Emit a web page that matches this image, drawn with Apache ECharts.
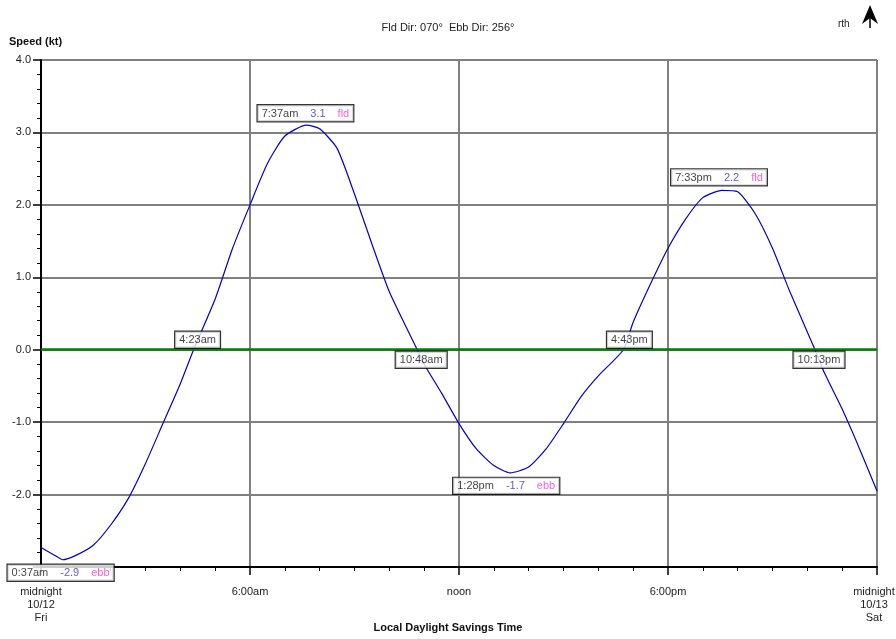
<!DOCTYPE html>
<html>
<head>
<meta charset="utf-8">
<script src="https://cdn.jsdelivr.net/npm/echarts@6/dist/echarts.min.js"></script>
<style>
  html, body { margin: 0; padding: 0; background: #fff; }
  #chart { width: 896px; height: 639px; }
</style>
</head>
<body>
<div id="chart"></div>
<script>
// hours since midnight 10/12, current speed in knots
const hours = [0, 0.5, 0.62, 1, 1.5, 2, 2.5, 3, 3.5, 4, 4.38, 5, 5.5, 6, 6.5, 7, 7.62, 8, 8.5, 9, 9.5, 10,
  10.8, 11, 11.5, 12, 12.5, 13, 13.47, 14, 14.5, 15, 15.5, 16, 16.72, 17, 17.5, 18, 18.5, 19, 19.55,
  20, 20.5, 21, 21.5, 22.22, 22.5, 23, 23.5, 24]
const speeds = [-2.73, -2.87, -2.9, -2.84, -2.7, -2.42, -2.06, -1.57, -1.02, -0.47, 0, 0.7, 1.4, 2.0, 2.57, 2.95, 3.1,
  3.05, 2.78, 2.15, 1.46, 0.8, 0, -0.2, -0.6, -1.02, -1.37, -1.6, -1.7, -1.62, -1.37, -1.02, -0.65, -0.36,
  0, 0.38, 0.91, 1.4, 1.8, 2.1, 2.2, 2.18, 1.88, 1.4, 0.8, 0, -0.33, -0.82, -1.37, -1.95]

// slack / max events
const eventHours = [0.62, 4.38, 7.62, 10.8, 13.47, 16.72, 19.55, 22.22]
const eventSpeeds = [-2.9, 0, 3.1, 0, -1.7, 0, 2.2, 0]
const eventTimes = ['0:37am', '4:23am', '7:37am', '10:48am', '1:28pm', '4:43pm', '7:33pm', '10:13pm']
const eventKinds = ['ebb', '', 'fld', '', 'ebb', '', 'fld', '']
const eventOffsets = [[-2, 13], [4, -10], [-1, -12], [4, 10], [-4, 13], [6, -10], [-3, -13], [4, 10]]

const xTickLabels = { 0: 'midnight\n10/12\nFri', 6: '6:00am', 12: 'noon', 18: '6:00pm', 24: '{r|midnight}\n{r|10/13}\n{r|Sat}' }

const font = 'Liberation Sans, Arial, sans-serif'
const chart = echarts.init(document.getElementById('chart'))

const eventData = eventHours.map((h, i) => {
  const txt = eventKinds[i]
    ? `{t|${eventTimes[i]}}{v|${eventSpeeds[i].toFixed(1)}}{k|${eventKinds[i]}}`
    : `{t|${eventTimes[i]}}`
  return {
    value: [h, eventSpeeds[i]],
    label: { formatter: txt, offset: eventOffsets[i] },
  }
})

chart.setOption({
  animation: false,
  textStyle: { fontFamily: font },
  grid: { left: 41, right: 19, top: 60, bottom: 72, containLabel: false, outerBoundsMode: 'none' },
  graphic: [
    { type: 'text', left: 'center', top: 22, style: { text: 'Fld Dir: 070°  Ebb Dir: 256°', font: `11px ${font}`, fill: '#222' } },
    { type: 'text', left: 9, top: 36, style: { text: 'Speed (kt)', font: `bold 11px ${font}`, fill: '#111' } },
    { type: 'text', left: 'center', top: 622, style: { text: 'Local Daylight Savings Time', font: `bold 11px ${font}`, fill: '#111' } },
    { type: 'text', left: 838, top: 19, style: { text: 'rth', font: `10px ${font}`, fill: '#222' } },
    { type: 'polygon', shape: { points: [[870, 5], [878, 24], [870, 18], [862, 24]] }, style: { fill: '#000' } },
    { type: 'line', shape: { x1: 870, y1: 15, x2: 870, y2: 28 }, style: { stroke: '#000', lineWidth: 1.5 } },
  ],
  xAxis: {
    type: 'value',
    min: 0,
    max: 24,
    interval: 6,
    axisLine: { onZero: false, lineStyle: { color: '#000', width: 2 } },
    axisTick: { length: 8, lineStyle: { color: '#000', width: 1.5 } },
    minorTick: { show: true, splitNumber: 6, length: 4, lineStyle: { color: '#000', width: 1 } },
    splitLine: { show: true, lineStyle: { color: '#808080', width: 2 } },
    axisLabel: {
      margin: 18,
      color: '#222',
      fontSize: 11,
      lineHeight: 13,
      formatter: (v) => xTickLabels[v] || '',
      rich: {
        r: { color: '#222', fontSize: 11, lineHeight: 13, fontFamily: font, padding: [0, 6, 0, 0] },
      },
    },
  },
  yAxis: {
    type: 'value',
    min: -3,
    max: 4,
    interval: 1,
    axisLine: { onZero: false, lineStyle: { color: '#000', width: 2 } },
    axisTick: { length: 8, lineStyle: { color: '#000', width: 1.5 } },
    minorTick: { show: true, splitNumber: 5, length: 4, lineStyle: { color: '#000', width: 1 } },
    splitLine: { show: true, lineStyle: { color: '#808080', width: 2 } },
    axisLabel: {
      margin: 10,
      color: '#222',
      fontSize: 11,
      padding: [4, 0, 0, 0],
      formatter: (v) => (v === -3 ? '' : v.toFixed(1)),
    },
  },
  series: [
    {
      type: 'line',
      data: hours.map((h, i) => [h, speeds[i]]),
      showSymbol: false,
      smooth: 0.2,
      lineStyle: { color: '#0000cc', width: 1.2 },
      markLine: {
        silent: true,
        symbol: 'none',
        label: { show: false },
        lineStyle: { color: '#008000', width: 2.5, type: 'solid' },
        data: [{ yAxis: 0 }],
      },
      z: 3,
    },
    {
      type: 'scatter',
      data: eventData,
      symbolSize: 0,
      z: 10,
      label: {
        show: true,
        position: 'inside',
        align: 'center',
        verticalAlign: 'middle',
        backgroundColor: '#fff',
        borderColor: '#000',
        borderWidth: 1.2,
        padding: [3, 4, 2, 4],
        color: '#111',
        fontSize: 11,
        fontFamily: font,
        rich: {
          t: { color: '#111', fontSize: 11, fontFamily: font },
          v: { color: '#3333cc', fontSize: 11, fontFamily: font, padding: [0, 0, 0, 12] },
          k: { color: '#ff33cc', fontSize: 11, fontFamily: font, padding: [0, 0, 0, 12] },
        },
      },
    },
  ],
})
</script>
</body>
</html>
